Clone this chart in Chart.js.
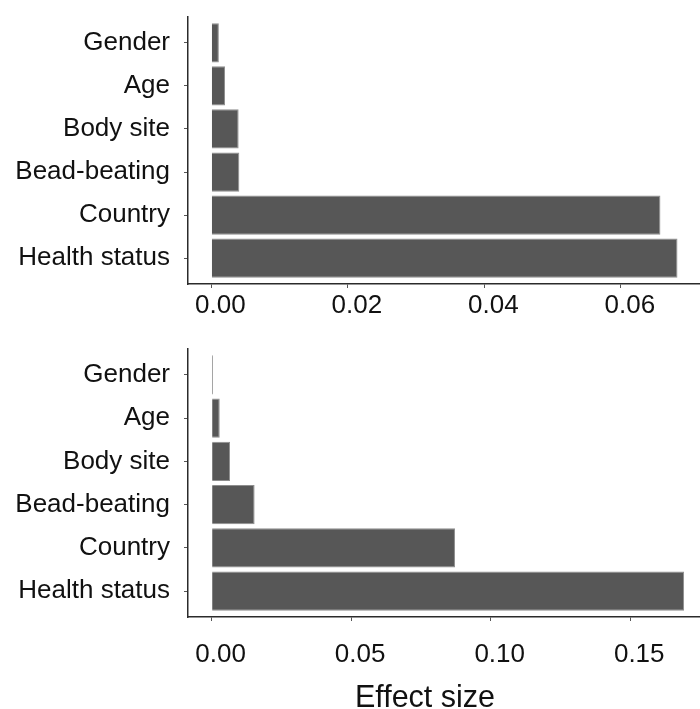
<!DOCTYPE html>
<html>
<head>
<meta charset="utf-8">
<script src="https://cdn.jsdelivr.net/npm/chart.js@4/dist/chart.umd.min.js"></script>
<style>
  html, body { margin: 0; padding: 0; background: #fff; }
  #wrap { position: relative; width: 700px; height: 709px; overflow: hidden; }
  canvas { position: absolute; left: 0; }
  #cTop { top: 0; }
  #cBottom { top: 330px; }
  #xTitle {
    position: absolute; left: 275px; width: 300px; top: 681px;
    text-align: center; font: 30.5px 'Liberation Sans', Arial, Helvetica, sans-serif;
    line-height: 30px; color: #111;
  }
</style>
</head>
<body>
<div id="wrap">
  <canvas id="cTop" width="700" height="330"></canvas>
  <canvas id="cBottom" width="700" height="379"></canvas>
  <div id="xTitle"></div>
</div>
<script>
// Factors, top to bottom
const categories = ['Gender', 'Age', 'Body site', 'Bead-beating', 'Country', 'Health status'];
// Effect size per factor, upper panel
const topEffect = [0.0011, 0.0020, 0.0040, 0.0041, 0.0658, 0.0683];
// Effect size per factor, lower panel
const bottomEffect = [0.0005, 0.0029, 0.0066, 0.0154, 0.0872, 0.1693];
// Tick values on the effect size axes
const topTicks = [0, 0.02, 0.04, 0.06];
const bottomTicks = [0, 0.05, 0.10, 0.15];
const axisTitle = 'Effect size';

const FONT = "'Liberation Sans', Arial, Helvetica, sans-serif";
const INK = '#111111';
const AXIS = '#2b2b2b';

document.getElementById('xTitle').textContent = axisTitle;

function panel(id, values, ticks, range, lay) {
  return new Chart(document.getElementById(id), {
    type: 'bar',
    data: {
      datasets: [{
        data: values.map((v, i) => ({ x: v, y: i })),
        backgroundColor: '#575757',
        borderColor: '#8e8e8e',
        borderWidth: 1,
        categoryPercentage: 1,
        barPercentage: 0.91
      }]
    },
    options: {
      indexAxis: 'y',
      responsive: false,
      animation: false,
      layout: { padding: { top: lay.top, left: 0, right: 0, bottom: 0 } },
      plugins: { legend: { display: false }, tooltip: { enabled: false } },
      scales: {
        x: {
          type: 'linear',
          position: 'bottom',
          min: range[0],
          max: range[1],
          afterBuildTicks: s => { s.ticks = ticks.map(v => ({ value: v })); },
          afterFit: s => { s.height = lay.xHeight; s.paddingLeft = 0; s.paddingRight = 0; },
          grid: { drawOnChartArea: false, drawTicks: true, tickLength: 4, tickColor: '#555', tickWidth: 1 },
          border: { display: true, color: AXIS, width: 1.5 },
          ticks: {
            font: { family: FONT, size: 26 }, color: INK,
            padding: lay.xPad, labelOffset: 9, maxRotation: 0, autoSkip: false,
            callback: v => Number(v).toFixed(2)
          }
        },
        y: {
          type: 'linear',
          min: -0.6,
          max: 5.6,
          bounds: 'data',
          offset: false,
          reverse: true,
          afterBuildTicks: s => { s.ticks = categories.map((_, i) => ({ value: i })); },
          afterFit: s => { s.width = 188; s.paddingTop = 0; s.paddingBottom = 0; },
          grid: { offset: false, drawOnChartArea: false, drawTicks: true, tickLength: 4, tickColor: '#555', tickWidth: 1 },
          border: { display: true, color: AXIS, width: 1.5 },
          ticks: {
            font: { family: FONT, size: 26 }, color: INK,
            padding: 14, autoSkip: false,
            callback: v => categories[v]
          }
        }
      }
    }
  });
}

panel('cTop', topEffect, topTicks, [-0.00342, 0.0716], { top: 17, xHeight: 46, xPad: 2 });
panel('cBottom', bottomEffect, bottomTicks, [-0.00847, 0.175], { top: 19, xHeight: 92, xPad: 18 });
</script>
</body>
</html>
